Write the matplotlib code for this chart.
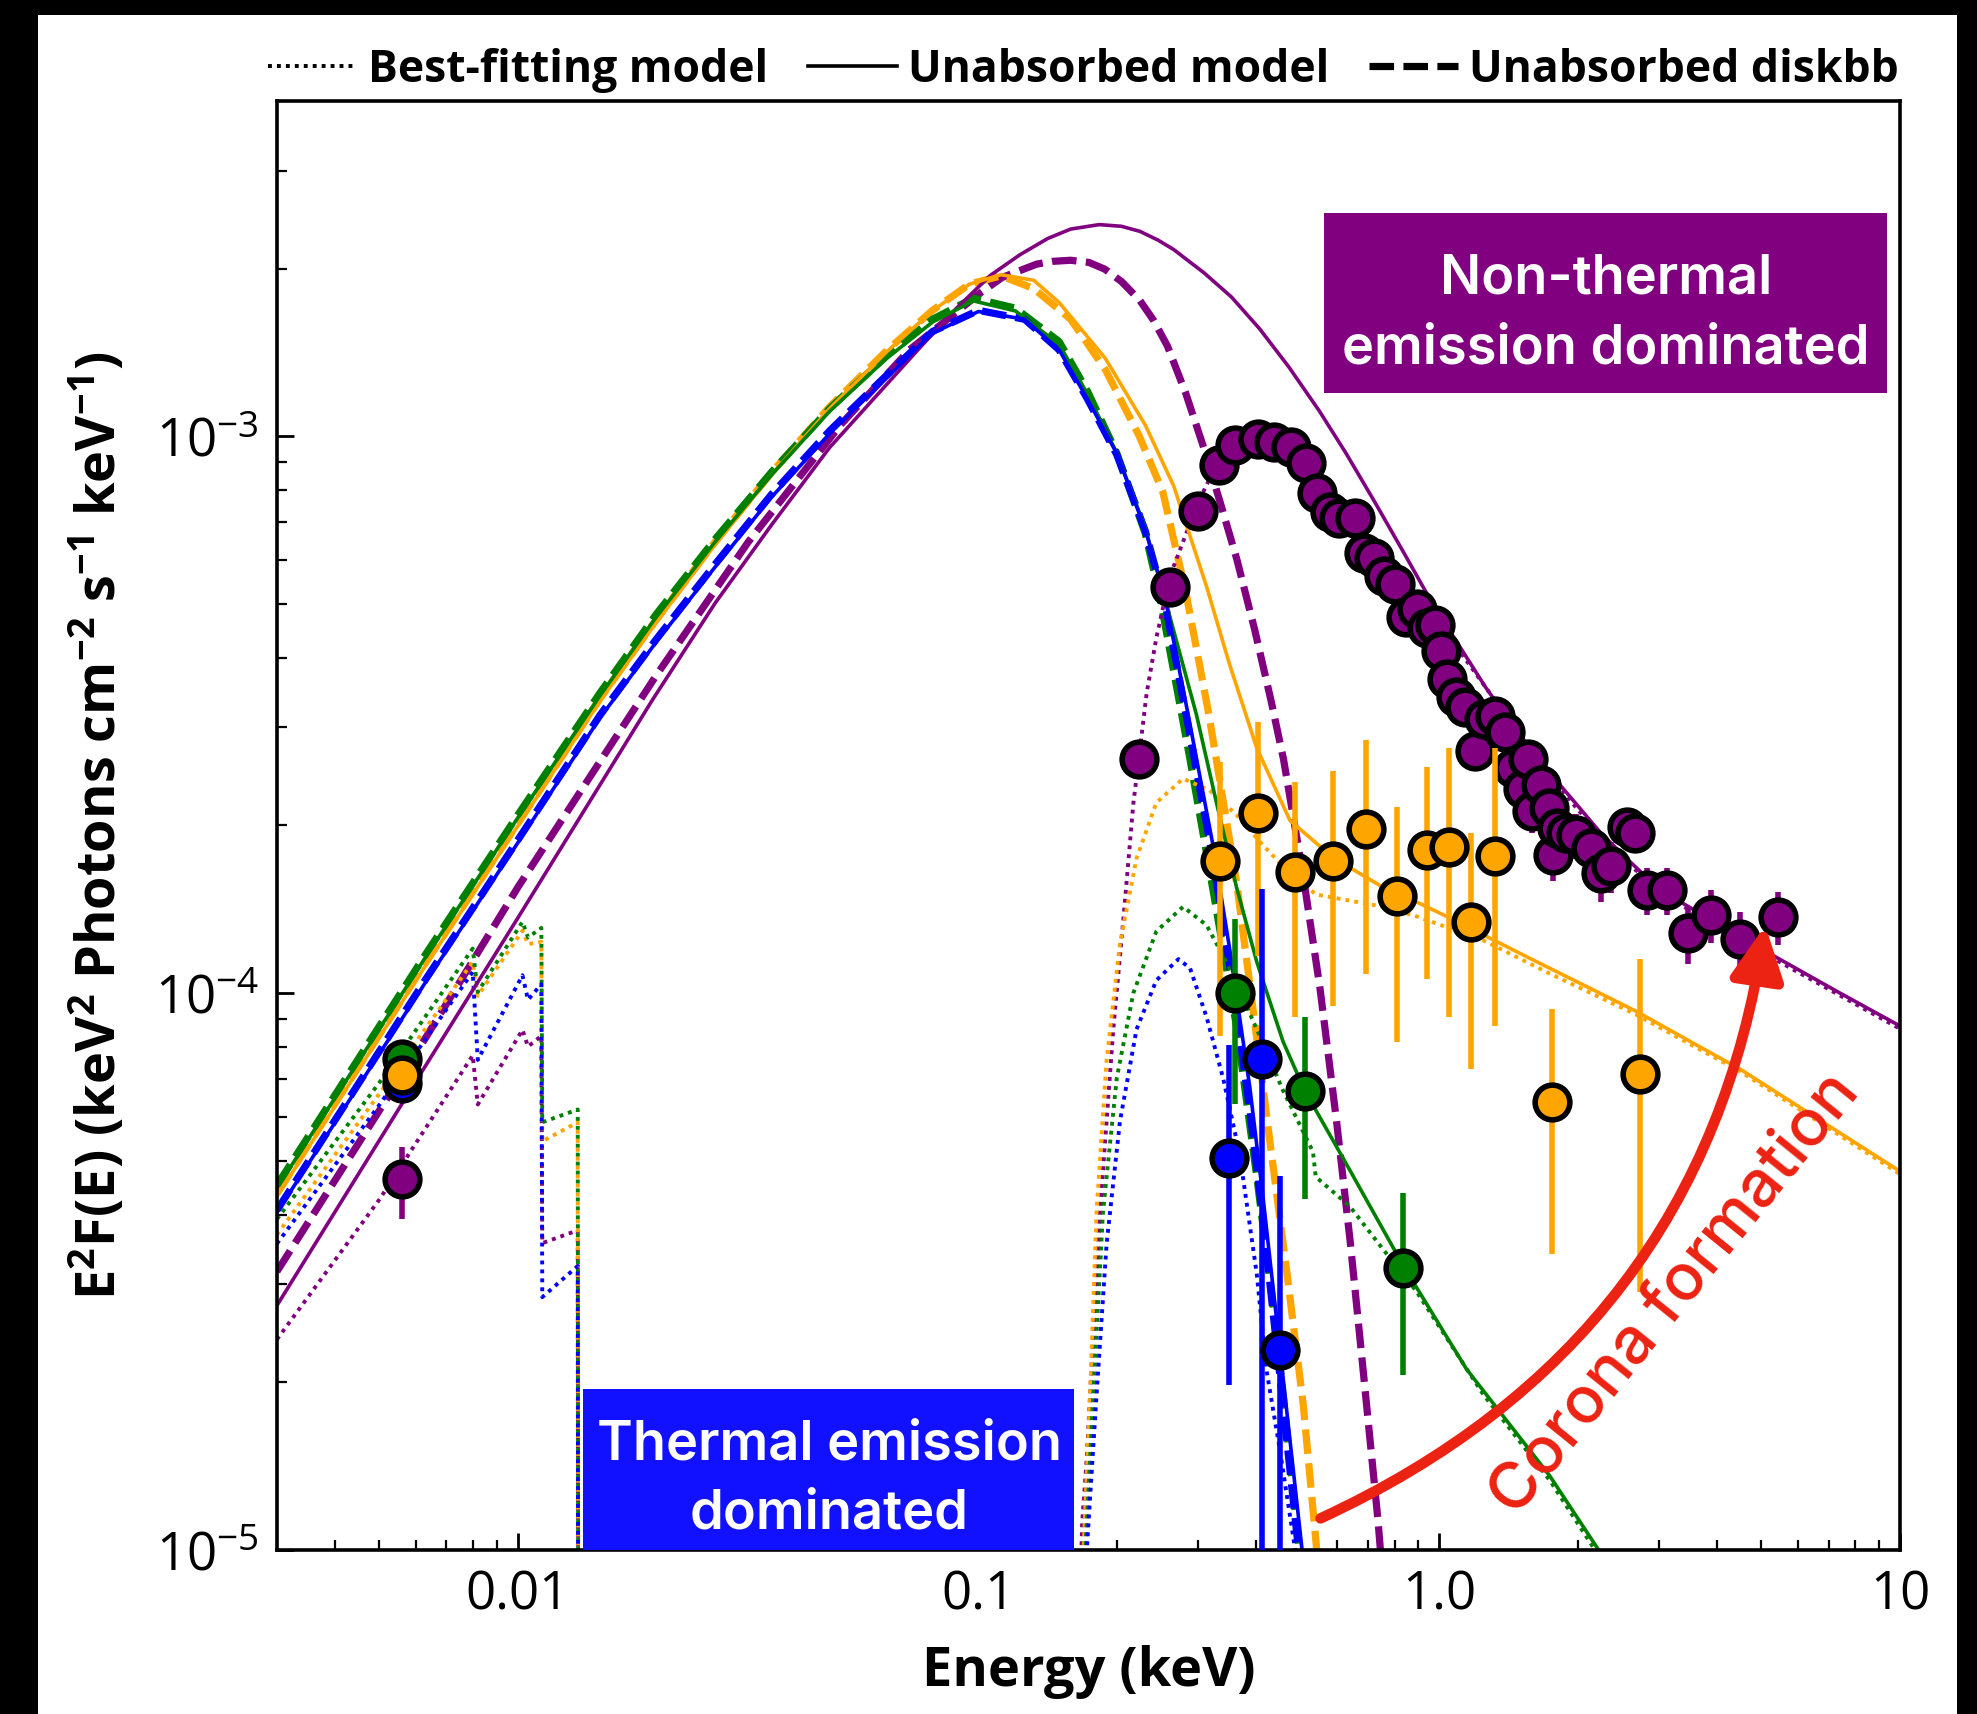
import numpy as np
import matplotlib.pyplot as plt
from matplotlib.lines import Line2D
from matplotlib.patches import Rectangle, FancyArrowPatch
from matplotlib.ticker import FixedLocator, LogLocator, NullFormatter

plt.rcParams['font.family'] = 'Open Sans'
plt.rcParams['mathtext.fontset'] = 'custom'
plt.rcParams['mathtext.rm'] = 'Open Sans'
plt.rcParams['mathtext.bf'] = 'Open Sans:bold'
plt.rcParams['mathtext.it'] = 'Open Sans:italic'

# ---------------- model curves: log10(E / keV) and log10(E^2 F) ----------------
# unabsorbed diskbb (dashed)
purple_disk_loge = [-2.523, -2.2, -2.0, -1.7, -1.5, -1.3, -1.15, -1.0, -0.949, -0.874, -0.84, -0.80, -0.76, -0.726,
                    -0.69, -0.65, -0.62, -0.59, -0.551, -0.513, -0.475, -0.439, -0.401, -0.365, -0.338, -0.297,
                    -0.259, -0.223, -0.193, -0.166, -0.133, -0.114]
purple_disk_logf = [-4.50, -4.08, -3.81, -3.43, -3.19, -2.98, -2.845, -2.745, -2.715, -2.691, -2.686, -2.684, -2.688,
                    -2.70, -2.722, -2.756, -2.792, -2.838, -2.921, -3.016, -3.12, -3.222, -3.346, -3.475, -3.58,
                    -3.78, -3.99, -4.229, -4.448, -4.67, -4.946, -5.138]
orange_disk_loge = [-2.523, -2.2, -2.0, -1.821, -1.7, -1.572, -1.45, -1.323, -1.199, -1.1, -1.02, -0.951, -0.88, -0.80,
                    -0.725, -0.651, -0.60, -0.55, -0.50, -0.44, -0.404, -0.367, -0.331, -0.295, -0.267, -0.25]
orange_disk_logf = [-4.36, -3.945, -3.695, -3.47, -3.33, -3.19, -3.066, -2.947, -2.846, -2.774, -2.727, -2.712, -2.735,
                    -2.79, -2.88, -3.0, -3.10, -3.28, -3.50, -3.80, -4.03, -4.27, -4.50, -4.74, -4.99, -5.15]
green_disk_loge = [-2.523, -2.2, -2.0, -1.821, -1.7, -1.572, -1.45, -1.323, -1.199, -1.1, -1.011, -0.92, -0.825, -0.763,
                   -0.70, -0.638, -0.606, -0.541, -0.49, -0.44, -0.396, -0.353, -0.31, -0.29]
green_disk_logf = [-4.345, -3.93, -3.68, -3.46, -3.32, -3.185, -3.065, -2.95, -2.855, -2.79, -2.752, -2.77, -2.83, -2.92,
                   -3.03, -3.175, -3.29, -3.58, -3.82, -4.06, -4.33, -4.61, -4.95, -5.12]
blue_disk_loge = [-2.523, -2.2, -2.0, -1.821, -1.7, -1.572, -1.45, -1.323, -1.199, -1.1, -1.0, -0.9, -0.825, -0.763,
                  -0.70, -0.638, -0.595, -0.545, -0.491, -0.455, -0.411, -0.382, -0.339, -0.295, -0.28]
blue_disk_logf = [-4.39, -3.975, -3.725, -3.50, -3.365, -3.23, -3.105, -2.99, -2.89, -2.812, -2.774, -2.79, -2.845,
                  -2.934, -3.033, -3.17, -3.30, -3.52, -3.76, -3.95, -4.21, -4.41, -4.74, -5.08, -5.2]

# unabsorbed total model (thin solid)
purple_mod_loge = [-2.523, -2.2, -2.0, -1.709, -1.572, -1.45, -1.323, -1.124, -1.05, -0.974, -0.91, -0.85, -0.80,
                   -0.738, -0.69, -0.65, -0.61, -0.576, -0.51, -0.451, -0.39, -0.327, -0.26, -0.202, -0.14, -0.077,
                   -0.015, 0.047, 0.10, 0.16, 0.23, 0.297, 0.35, 0.409, 0.46, 0.521, 0.63, 0.743, 0.87, 1.0]
purple_mod_logf = [-4.561, -4.13, -3.865, -3.475, -3.30, -3.16, -3.02, -2.838, -2.772, -2.711, -2.674, -2.645, -2.628,
                   -2.620, -2.623, -2.632, -2.648, -2.665, -2.707, -2.750, -2.807, -2.875, -2.955, -3.031, -3.118,
                   -3.209, -3.30, -3.381, -3.45, -3.52, -3.595, -3.66, -3.712, -3.76, -3.80, -3.835, -3.888, -3.941,
                   -4.0, -4.059]
orange_mod_loge = [-2.523, -2.2, -2.0, -1.821, -1.7, -1.572, -1.45, -1.323, -1.199, -1.1, -1.02, -0.951, -0.88, -0.825,
                   -0.725, -0.638, -0.576, -0.505, -0.455, -0.396, -0.324, -0.23, -0.122, -0.04, 0.023, 0.193, 0.426,
                   0.658, 1.0]
orange_mod_logf = [-4.365, -3.95, -3.70, -3.475, -3.335, -3.195, -3.07, -2.95, -2.848, -2.775, -2.727, -2.710, -2.72,
                   -2.76, -2.86, -2.98, -3.09, -3.27, -3.41, -3.56, -3.69, -3.757, -3.81, -3.84, -3.865, -3.936, -4.032,
                   -4.139, -4.32]
green_mod_loge = [-2.523, -2.2, -2.0, -1.821, -1.7, -1.572, -1.45, -1.323, -1.199, -1.1, -1.011, -0.92, -0.825, -0.763,
                  -0.70, -0.638, -0.586, -0.527, -0.483, -0.44, -0.396, -0.339, -0.292, -0.194, -0.077, 0.059, 0.24,
                  0.346, 0.38]
green_mod_logf = [-4.35, -3.935, -3.685, -3.465, -3.325, -3.19, -3.07, -2.955, -2.86, -2.795, -2.757, -2.775, -2.835,
                  -2.925, -3.03, -3.165, -3.32, -3.50, -3.66, -3.81, -3.944, -4.087, -4.175, -4.318, -4.491, -4.675,
                  -4.867, -5.0, -5.05]
blue_mod_loge = blue_disk_loge
blue_mod_logf = [-4.394, -3.98, -3.73, -3.505, -3.37, -3.235, -3.11, -2.995, -2.895, -2.815, -2.776, -2.79, -2.845,
                 -2.934, -3.031, -3.168, -3.29, -3.50, -3.735, -3.92, -4.17, -4.37, -4.69, -5.02, -5.15]

# best-fitting (absorbed) model, dotted: UV part and X-ray part
uv_loge = [-2.523, -2.3, -2.098, -2.087, -1.99, -1.978, -1.949, -1.947, -1.87, -1.868]
purple_abs_uv = [-4.622, -4.37, -4.112, -4.20, -4.066, -4.096, -4.077, -4.449, -4.426, -6.0]
orange_abs_uv = [-4.434, -4.18, -3.944, -4.005, -3.888, -3.912, -3.908, -4.266, -4.232, -6.0]
green_abs_uv = [-4.406, -4.16, -3.92, -3.998, -3.872, -3.90, -3.883, -4.232, -4.209, -6.0]
blue_abs_uv = [-4.45, -4.20, -3.962, -4.12, -3.968, -4.012, -3.984, -4.546, -4.49, -6.0]

purple_abs_x_loge = [-0.787, -0.775, -0.765, -0.751, -0.7365, -0.722, -0.7075, -0.6856, -0.664, -0.635, -0.6135,
                     -0.584, -0.524, -0.477, -0.44, -0.40, -0.36, -0.32, -0.28, -0.24, -0.2, -0.1, 0.0, 0.1, 0.2, 0.3,
                     0.409, 0.521, 0.743, 1.0]
purple_abs_x_logf = [-5.3, -4.95, -4.834, -4.614, -4.395, -4.23, -4.065, -3.867, -3.66, -3.461, -3.36, -3.25, -3.12,
                     -3.04, -3.01, -3.00, -3.01, -3.03, -3.07, -3.12, -3.16, -3.24, -3.335, -3.45, -3.565, -3.67,
                     -3.768, -3.84, -3.946, -4.064]
orange_abs_x_loge = [-0.785, -0.772, -0.758, -0.744, -0.722, -0.693, -0.657, -0.614, -0.556, -0.498, -0.44, -0.382,
                     -0.324, -0.267, -0.194, -0.122, -0.05, 0.095, 0.24, 0.426, 0.658, 1.0]
orange_abs_x_logf = [-5.3, -5.0, -4.724, -4.395, -4.12, -3.911, -3.758, -3.658, -3.615, -3.636, -3.68, -3.735, -3.785,
                     -3.823, -3.834, -3.845, -3.862, -3.905, -3.965, -4.038, -4.143, -4.325]
green_abs_x_loge = [-0.78, -0.768, -0.751, -0.73, -0.70, -0.664, -0.614, -0.556, -0.505, -0.455, -0.396, -0.339,
                    -0.274, -0.268, -0.194, -0.122, -0.05, 0.095, 0.24, 0.346, 0.40]
green_abs_x_logf = [-5.3, -5.0, -4.724, -4.395, -4.153, -4.0, -3.889, -3.845, -3.878, -3.955, -4.065, -4.175, -4.285,
                    -4.33, -4.383, -4.46, -4.535, -4.72, -4.875, -5.01, -5.1]
blue_abs_x_loge = [-0.775, -0.765, -0.744, -0.722, -0.693, -0.657, -0.614, -0.566, -0.541, -0.505, -0.469, -0.433,
                   -0.396, -0.375, -0.346, -0.32, -0.30]
blue_abs_x_logf = [-5.3, -5.0, -4.724, -4.45, -4.23, -4.065, -3.977, -3.939, -3.955, -4.043, -4.153, -4.29, -4.505,
                   -4.677, -4.82, -4.96, -5.07]

# ---------------- data points (flux in units of 1e-4) ----------------
uv_energy = [0.0056]
purple_uv_f, purple_uv_lo, purple_uv_hi = [0.463], [0.393], [0.530]
orange_uv_f, orange_uv_lo, orange_uv_hi = [0.713], [0.693], [0.733]
green_uv_f, green_uv_lo, green_uv_hi = [0.760], [0.740], [0.780]
blue_uv_f, blue_uv_lo, blue_uv_hi = [0.690], [0.670], [0.710]

purple_e = [0.2226, 0.261, 0.299, 0.333, 0.361, 0.405, 0.437, 0.477, 0.514, 0.544, 0.580, 0.606, 0.658, 0.688, 0.723,
            0.760, 0.800, 0.846, 0.896, 0.942, 0.978, 1.01, 1.042, 1.089, 1.138, 1.197, 1.25, 1.32, 1.39, 1.445, 1.52,
            1.56, 1.59, 1.66, 1.73, 1.77, 1.80, 1.88, 1.98, 2.14, 2.25, 2.36, 2.55, 2.66, 2.82, 3.12, 3.47, 3.89, 4.50,
            5.43]
purple_f = [2.63, 5.35, 7.35, 8.87, 9.64, 9.89, 9.75, 9.55, 8.97, 7.91, 7.31, 7.12, 7.12, 6.17, 6.04, 5.61, 5.43, 4.74,
            4.90, 4.53, 4.58, 4.12, 3.66, 3.40, 3.26, 2.72, 3.10, 3.15, 2.94, 2.54, 2.33, 2.63, 2.12, 2.36, 2.15, 1.77,
            1.98, 1.94, 1.92, 1.82, 1.64, 1.69, 1.99, 1.94, 1.53, 1.53, 1.28, 1.38, 1.25, 1.37]
purple_err = [0.15, 0.25, 0.30, 0.35, 0.35, 0.35, 0.35, 0.35, 0.35, 0.30, 0.30, 0.30, 0.30, 0.30, 0.30, 0.30, 0.30,
              0.25, 0.25, 0.25, 0.25, 0.25, 0.25, 0.25, 0.25, 0.18, 0.18, 0.18, 0.18, 0.18, 0.18, 0.18, 0.18, 0.18,
              0.18, 0.18, 0.18, 0.18, 0.18, 0.18, 0.18, 0.18, 0.15, 0.15, 0.15, 0.15, 0.15, 0.15, 0.15, 0.15]

orange_e = [0.335, 0.405, 0.486, 0.587, 0.692, 0.810, 0.942, 1.048, 1.174, 1.324, 1.757, 2.73]
orange_f = [1.728, 2.106, 1.649, 1.728, 1.968, 1.493, 1.81, 1.83, 1.34, 1.76, 0.638, 0.716]
orange_lo = [0.837, 1.164, 0.906, 0.949, 1.082, 0.817, 1.06, 0.906, 0.731, 0.873, 0.340, 0.290]
orange_hi = [2.60, 3.07, 2.39, 2.51, 2.85, 2.16, 2.55, 2.76, 1.94, 2.76, 0.935, 1.15]

green_e = [0.361, 0.511, 0.836]
green_f = [1.0, 0.667, 0.321]
green_lo = [0.632, 0.426, 0.206]
green_hi = [1.36, 0.906, 0.437]

blue_e = [0.350, 0.413, 0.451]
blue_f = [0.506, 0.762, 0.229]
blue_lo = [0.198, 0.01, 0.01]
blue_hi = [0.807, 1.54, 0.470]

x_tick_values = [0.01, 0.1, 1.0, 10.0]
x_tick_labels = ['0.01', '0.1', '1.0', '10']

legend_labels = ['Best-fitting model', 'Unabsorbed model', 'Unabsorbed diskbb']

# ---------------- drawing ----------------
RED = '#ec2212'
DOT = (0, (1, 1.3))
DASH = (0, (3.4, 1.3))
BOX_FONT = dict(family='Inter', fontweight='semibold')

fig = plt.figure(figsize=(9.885, 8.57), dpi=200)
fig.patch.set_facecolor('black')
fig.add_artist(Rectangle((38 / 1977, 0), 1919 / 1977, 1699 / 1714, transform=fig.transFigure,
                         facecolor='white', edgecolor='none', zorder=-10))
ax = fig.add_axes([0.1401, 0.0957, 0.8209, 0.8454])


def curve(loge, logf, color, ls, lw, z):
    ax.plot(10 ** np.asarray(loge), 10 ** np.asarray(logf), color=color, ls=ls, lw=lw, zorder=z,
            dash_capstyle='butt', solid_capstyle='butt', solid_joinstyle='round')


def points(e, f, lo, hi, color, z):
    f = np.asarray(f) * 1e-4
    yerr = [f - np.asarray(lo) * 1e-4, np.asarray(hi) * 1e-4 - f]
    ax.errorbar(e, f, yerr=yerr, fmt='o', color=color, mfc=color, mec='black', mew=2.0, ms=12.5,
                elinewidth=2.0, capsize=0, zorder=z)


for c, le, lf in [('purple', purple_disk_loge, purple_disk_logf), ('orange', orange_disk_loge, orange_disk_logf),
                  ('green', green_disk_loge, green_disk_logf), ('blue', blue_disk_loge, blue_disk_logf)]:
    curve(le, lf, c, DASH, 2.6, 2.0)

for c, uvf, le, lf in [('purple', purple_abs_uv, purple_abs_x_loge, purple_abs_x_logf),
                       ('orange', orange_abs_uv, orange_abs_x_loge, orange_abs_x_logf),
                       ('green', green_abs_uv, green_abs_x_loge, green_abs_x_logf),
                       ('blue', blue_abs_uv, blue_abs_x_loge, blue_abs_x_logf)]:
    curve(uv_loge, uvf, c, DOT, 1.4, 2.1)
    curve(le, lf, c, DOT, 1.4, 2.1)

for c, le, lf in [('purple', purple_mod_loge, purple_mod_logf), ('orange', orange_mod_loge, orange_mod_logf),
                  ('green', green_mod_loge, green_mod_logf), ('blue', blue_mod_loge, blue_mod_logf)]:
    curve(le, lf, c, '-', 1.3, 2.2)

# UV points
points(uv_energy, blue_uv_f, blue_uv_lo, blue_uv_hi, 'blue', 5)
points(uv_energy, green_uv_f, green_uv_lo, green_uv_hi, 'green', 5.1)
points(uv_energy, orange_uv_f, orange_uv_lo, orange_uv_hi, 'orange', 5.2)
points(uv_energy, purple_uv_f, purple_uv_lo, purple_uv_hi, 'purple', 5.3)
# X-ray points
pf = np.asarray(purple_f)
pe = np.asarray(purple_err)
points(purple_e, pf, pf - pe, pf + pe, 'purple', 5.4)
points(orange_e, orange_f, orange_lo, orange_hi, 'orange', 5.5)
points(green_e, green_f, green_lo, green_hi, 'green', 5.6)
points(blue_e, blue_f, blue_lo, blue_hi, 'blue', 5.7)

ax.set_xscale('log')
ax.set_yscale('log')
ax.set_xlim(0.003, 10)
ax.set_ylim(1e-5, 4e-3)
ax.xaxis.set_major_locator(FixedLocator(x_tick_values))
ax.set_xticklabels(x_tick_labels)
ax.xaxis.set_minor_locator(LogLocator(subs=np.arange(2, 10)))
ax.xaxis.set_minor_formatter(NullFormatter())
ax.yaxis.set_minor_locator(LogLocator(subs=np.arange(2, 10)))
ax.yaxis.set_minor_formatter(NullFormatter())
ax.tick_params(which='both', direction='in', top=False, right=False)
ax.tick_params(which='major', length=6, width=1.0, labelsize=19)
ax.tick_params(which='minor', length=3.5, width=0.8)
ax.tick_params(axis='x', which='major', pad=7)
ax.tick_params(axis='y', which='major', pad=6.5)
for s in ax.spines.values():
    s.set_linewidth(1.3)

ax.set_xlabel('Energy (keV)', fontsize=19.5, fontweight='bold')
ax.set_ylabel(r'E$^{\mathbf{2}}$F(E) (keV$^{\mathbf{2}}$ Photons cm$^{\mathbf{-2}}$ s$^{\mathbf{-1}}$ '
              r'keV$^{\mathbf{-1}}$)', fontsize=19.5, fontweight='bold')
ax.xaxis.set_label_coords(0.5, -0.0656)
ax.yaxis.set_label_coords(-0.091, 0.5)

# shaded annotation boxes
ax.add_patch(Rectangle((0.6454, 0.7985), 0.3466, 0.1242, transform=ax.transAxes,
                       facecolor='purple', edgecolor='none', zorder=6))
ax.text(0.819, 0.8668, 'Non-thermal', transform=ax.transAxes, ha='center', va='baseline',
        color='white', fontsize=19.5, zorder=7, **BOX_FONT)
ax.text(0.8186, 0.819, 'emission dominated', transform=ax.transAxes, ha='center', va='baseline',
        color='white', fontsize=19.5, zorder=7, **BOX_FONT)

ax.add_patch(Rectangle((0.1887, 0.0), 0.3027, 0.1109, transform=ax.transAxes,
                       facecolor='#1111ff', edgecolor='none', zorder=6))
ax.text(0.3403, 0.0627, 'Thermal emission', transform=ax.transAxes, ha='center', va='baseline',
        color='white', fontsize=19.5, zorder=7, **BOX_FONT)
ax.text(0.340, 0.0148, 'dominated', transform=ax.transAxes, ha='center', va='baseline',
        color='white', fontsize=19.5, zorder=7, **BOX_FONT)

# corona arrow
arrow = FancyArrowPatch(posA=(0.643, 0.0218), posB=(0.917, 0.431), transform=ax.transAxes,
                        connectionstyle='arc3,rad=0.27', arrowstyle='-|>,head_length=0.8,head_width=0.4',
                        mutation_scale=20, lw=3.8, color=RED, shrinkA=0, shrinkB=0, zorder=7)
ax.add_patch(arrow)
ax.text(0.862, 0.176, 'Corona formation', transform=ax.transAxes, rotation=51, rotation_mode='anchor',
        ha='center', va='center', color=RED, fontsize=23.5, zorder=7, family='Inter', fontweight='medium')

handles = [Line2D([], [], color='black', ls=DOT, lw=1.4),
           Line2D([], [], color='black', ls='-', lw=1.3),
           Line2D([], [], color='black', ls=DASH, lw=2.6)]
fig.legend(handles, legend_labels, loc='center', bbox_to_anchor=(0.548, 0.959), ncol=3, frameon=False,
           prop={'weight': 'bold', 'size': 16}, handlelength=2.0, handletextpad=0.25, columnspacing=0.9,
           borderaxespad=0, borderpad=0)

fig.savefig('out.png', dpi=200, facecolor='black')
